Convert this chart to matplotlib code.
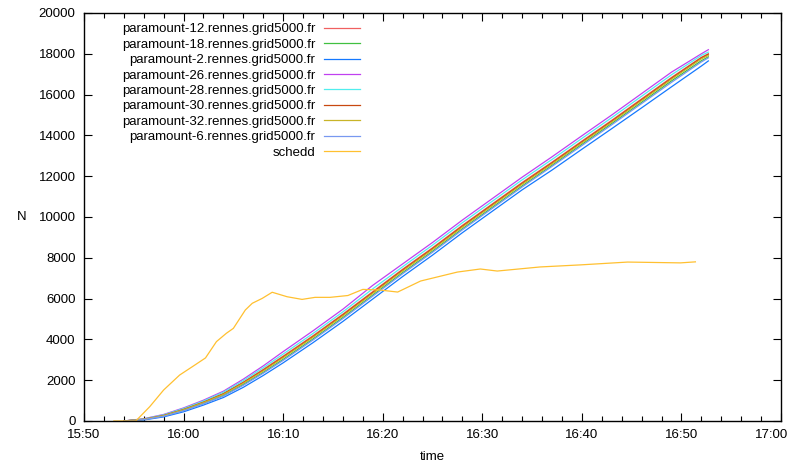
import datetime as dt
import matplotlib
matplotlib.use("Agg")
import matplotlib.pyplot as plt
import matplotlib.dates as mdates
from matplotlib.transforms import ScaledTranslation

plt.rcParams["font.family"] = ["Liberation Sans", "DejaVu Sans"]
plt.rcParams["font.size"] = 9.5

# minutes after 15:50
t_nodes = [4, 6, 8, 10, 12, 14, 16, 18, 20, 23, 26, 29, 32, 35, 38, 41, 44,
           47, 50, 53, 56, 59, 62, 62.7]

p12 = [0, 90, 280, 580, 940, 1350, 1910, 2530, 3180, 4180, 5240, 6340, 7440,
       8490, 9590, 10640, 11690, 12690, 13720, 14740, 15790, 16840, 17830, 18000]
p18 = [0, 70, 240, 520, 860, 1250, 1790, 2380, 3020, 4020, 5070, 6170, 7270,
       8320, 9420, 10470, 11520, 12530, 13560, 14580, 15620, 16670, 17660, 17850]
p2 = [0, 50, 200, 450, 780, 1150, 1650, 2230, 2850, 3840, 4880, 5980, 7080,
      8130, 9230, 10280, 11330, 12300, 13320, 14330, 15350, 16380, 17400, 17650]
p26 = [0, 110, 320, 640, 1020, 1460, 2050, 2700, 3400, 4420, 5480, 6650, 7700,
       8750, 9850, 10900, 11950, 12950, 13980, 15000, 16050, 17100, 18000, 18200]
p28 = [0, 100, 300, 610, 980, 1410, 1980, 2610, 3280, 4290, 5350, 6480, 7560,
       8620, 9720, 10770, 11820, 12820, 13850, 14870, 15920, 16970, 17920, 18080]
p30 = [0, 85, 270, 565, 920, 1330, 1880, 2490, 3140, 4140, 5200, 6300, 7400,
       8450, 9550, 10600, 11650, 12650, 13680, 14700, 15750, 16800, 17800, 17980]
p32 = [0, 80, 260, 550, 900, 1300, 1850, 2450, 3100, 4100, 5150, 6250, 7350,
       8400, 9500, 10550, 11600, 12600, 13630, 14650, 15700, 16750, 17750, 17920]
p6 = [0, 65, 230, 500, 840, 1220, 1750, 2340, 2970, 3970, 5020, 6120, 7220,
      8270, 9370, 10420, 11470, 12480, 13500, 14520, 15560, 16600, 17600, 17800]

t_schedd = [3, 5.2, 6.6, 8.0, 9.6, 11.0, 12.2, 13.3, 14.3, 15.0, 16.2, 16.9,
            17.9, 18.9, 20.4, 21.9, 23.2, 24.7, 26.5, 28.0, 29.7, 31.5, 33.8,
            37.5, 39.8, 41.5, 45.8, 49.8, 54.6, 59.9, 61.4]
schedd = [0, 0, 700, 1520, 2250, 2700, 3090, 3890, 4300, 4540, 5440, 5770,
          6010, 6310, 6090, 5960, 6060, 6060, 6150, 6450, 6420, 6320, 6860,
          7300, 7450, 7350, 7550, 7650, 7790, 7750, 7800]

hosts = ["paramount-12", "paramount-18", "paramount-2", "paramount-26",
         "paramount-28", "paramount-30", "paramount-32", "paramount-6"]
series = [p12, p18, p2, p26, p28, p30, p32, p6]
colors = ["#f06060", "#40c040", "#1478ff", "#c040f0", "#50eeee", "#c84810",
          "#c8b428", "#7898f0"]

start = dt.datetime(2012, 1, 1, 15, 50)


def to_time(mins):
    return [start + dt.timedelta(minutes=m) for m in mins]


fig = plt.figure(figsize=(7.91, 4.72), dpi=100)
ax = fig.add_axes([0.1062, 0.1081, 0.8812, 0.8644])

for name, vals, c in zip(hosts, series, colors):
    ax.plot(to_time(t_nodes), vals, color=c, lw=0.9,
            label=name + ".rennes.grid5000.fr")
ax.plot(to_time(t_schedd), schedd, color="#ffc030", lw=0.9, label="schedd")

ax.set_xlim(start, start + dt.timedelta(minutes=70))
ax.set_ylim(0, 20000)
ax.xaxis.set_major_locator(mdates.MinuteLocator(byminute=range(0, 60, 10)))
ax.xaxis.set_minor_locator(mdates.MinuteLocator(byminute=range(0, 60, 2)))
ax.xaxis.set_major_formatter(mdates.DateFormatter("%H:%M"))
ax.set_yticks(range(0, 20001, 2000))

ax.tick_params(which="both", direction="in", top=True, right=True,
               labelsize=9.5, pad=6)
ax.tick_params(which="major", length=6, width=0.8)
ax.tick_params(which="minor", length=3.5, width=0.8)
for s in ax.spines.values():
    s.set_linewidth(1.0)

ax.set_xlabel("time", labelpad=7)
ax.set_ylabel("N", rotation=0, labelpad=12, va="center")

leg = ax.legend(loc="upper right", bbox_to_anchor=(0.396, 0.975),
                markerfirst=False, frameon=False, borderpad=0,
                borderaxespad=0, handlelength=2.7, handletextpad=0.7,
                labelspacing=0.24, fontsize=9.5)

# keep the last tick label (17:00) inside the canvas
fig.canvas.draw()
last = ax.xaxis.get_major_ticks()[-1].label1
last.set_transform(last.get_transform()
                   + ScaledTranslation(-9 / 100, 0, fig.dpi_scale_trans))

fig.savefig("out.png", dpi=100)
